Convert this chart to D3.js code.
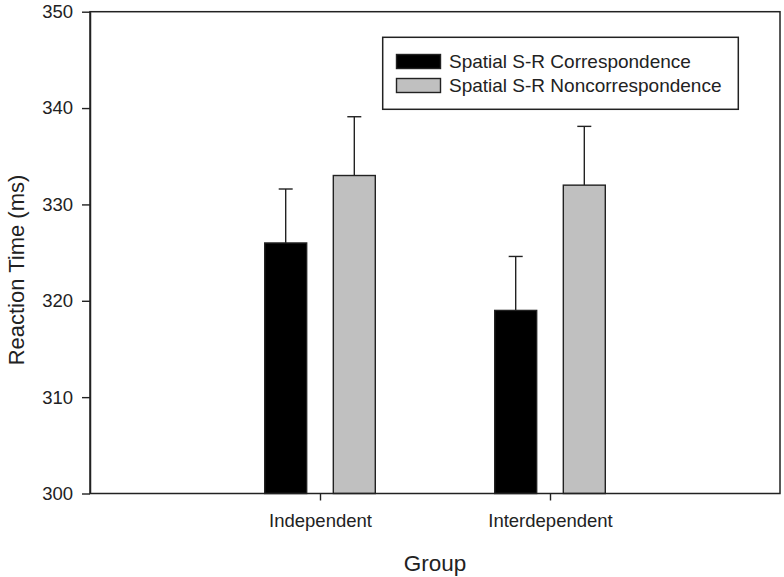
<!DOCTYPE html>
<html>
<head>
<meta charset="utf-8">
<script src="https://cdn.jsdelivr.net/npm/d3@7"></script>
<style>
  html, body { margin: 0; padding: 0; background: #fff; }
  svg { display: block; font-family: "Liberation Sans", Arial, sans-serif; }
</style>
</head>
<body>
<svg id="chart" width="784" height="577"></svg>
<script>
const groups = ["Independent", "Interdependent"];
const seriesNames = ["Spatial S-R Correspondence", "Spatial S-R Noncorrespondence"];
const seriesColors = ["#000000", "#c0c0c0"];
const correspondence = [326, 319];
const correspondenceErr = [331.6, 324.6];
const noncorrespondence = [333, 332];
const noncorrespondenceErr = [339.1, 338.1];
const yTicks = [300, 310, 320, 330, 340, 350];

const seriesValues = [correspondence, noncorrespondence];
const seriesErrTop = [correspondenceErr, noncorrespondenceErr];

const svg = d3.select("#chart");
const pL = 90, pR = 780, pT = 11.7, pB = 493.5;
const ink = "#222";

const y = d3.scaleLinear().domain([300, 350]).range([pB, pT]);
const x = d3.scalePoint().domain(groups).range([pL, pR]).padding(1);
const xs = d3.scaleBand().domain(seriesNames).range([-55.3, 55.3]).paddingInner(0.388).paddingOuter(0);

const data = [];
groups.forEach((g, gi) => {
  seriesNames.forEach((s, si) => {
    data.push({ g, s, si, v: seriesValues[si][gi], e: seriesErrTop[si][gi] });
  });
});

// error bars (behind bars)
const errG = svg.append("g");
data.forEach(d => {
  const cx = x(d.g) + xs(d.s) + xs.bandwidth() / 2;
  errG.append("line").attr("x1", cx).attr("x2", cx)
    .attr("y1", y(d.v)).attr("y2", y(d.e))
    .attr("stroke", ink).attr("stroke-width", 1.4);
  errG.append("line").attr("x1", cx - 7).attr("x2", cx + 7)
    .attr("y1", y(d.e)).attr("y2", y(d.e))
    .attr("stroke", ink).attr("stroke-width", 1.4);
});

svg.append("g").selectAll("rect").data(data).join("rect")
  .attr("x", d => x(d.g) + xs(d.s))
  .attr("width", xs.bandwidth())
  .attr("y", d => y(d.v))
  .attr("height", d => y(300) - y(d.v))
  .attr("fill", d => seriesColors[d.si])
  .attr("stroke", ink).attr("stroke-width", 1.4);

// frame
svg.append("rect").attr("x", pL).attr("y", pT)
  .attr("width", pR - pL).attr("height", pB - pT)
  .attr("fill", "none").attr("stroke", ink).attr("stroke-width", 1.5);

// y axis
const yAxis = svg.append("g").attr("transform", `translate(${pL},0)`)
  .call(d3.axisLeft(y).tickValues(yTicks).tickSize(8).tickSizeOuter(0).tickPadding(9).tickFormat(d3.format("d")));
yAxis.select(".domain").attr("stroke", ink).attr("stroke-width", 1.5);
yAxis.selectAll(".tick line").attr("stroke", ink).attr("stroke-width", 1.4);
yAxis.selectAll(".tick text").attr("fill", ink).style("font-size", "18.5px")
  .style("font-family", "'Liberation Sans', Arial, sans-serif");

// x axis
const xAxis = svg.append("g").attr("transform", `translate(0,${pB})`)
  .call(d3.axisBottom(x).tickSize(7).tickSizeOuter(0).tickPadding(13));
xAxis.select(".domain").remove();
xAxis.selectAll(".tick line").attr("stroke", ink).attr("stroke-width", 1.4);
xAxis.selectAll(".tick text").attr("fill", ink).style("font-size", "18.5px")
  .style("font-family", "'Liberation Sans', Arial, sans-serif");

// axis titles
svg.append("text").attr("x", (pL + pR) / 2).attr("y", 571)
  .attr("text-anchor", "middle").attr("fill", ink).style("font-size", "22.5px")
  .text("Group");
svg.append("text").attr("transform", "translate(24,270) rotate(-90)")
  .attr("text-anchor", "middle").attr("fill", ink).style("font-size", "22px")
  .text("Reaction Time (ms)");

// legend
const lg = svg.append("g");
lg.append("rect").attr("x", 382.7).attr("y", 37.3).attr("width", 355.6).attr("height", 72)
  .attr("fill", "#fff").attr("stroke", ink).attr("stroke-width", 1.5);
seriesNames.forEach((s, i) => {
  const yy = 54.5 + i * 24;
  lg.append("rect").attr("x", 396.5).attr("y", yy).attr("width", 44).attr("height", 14)
    .attr("fill", seriesColors[i]).attr("stroke", ink).attr("stroke-width", 1.4);
  lg.append("text").attr("x", 449).attr("y", yy + 13.5).attr("fill", ink)
    .style("font-size", "19px").text(s);
});
</script>
</body>
</html>
